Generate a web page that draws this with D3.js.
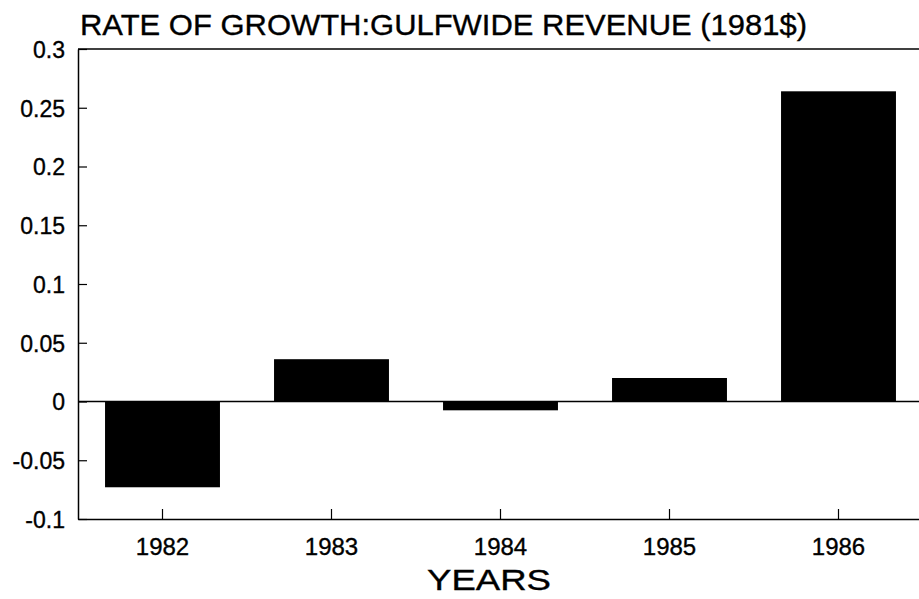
<!DOCTYPE html>
<html><head><meta charset="utf-8">
<script src="https://cdn.jsdelivr.net/npm/d3@7"></script>
<style>
body{margin:0;background:#fff;}
text{font-family:"Liberation Sans",Arial,Helvetica,sans-serif;fill:#000;stroke:#000;stroke-width:0.35px;}
</style></head>
<body><svg id="c" width="919" height="599"></svg>
<script>
const years = ["1982","1983","1984","1985","1986"];
const growth = [-0.073, 0.036, -0.0075, 0.020, 0.264];
const yTicks = [-0.1, -0.05, 0, 0.05, 0.1, 0.15, 0.2, 0.25, 0.3];
const yTickLabels = ["-0.1","-0.05","0","0.05","0.1","0.15","0.2","0.25","0.3"];
const titleText = "RATE OF GROWTH:GULFWIDE REVENUE (1981$)";
const xTitle = "YEARS";

const svg = d3.select("#c");
const L = 78, R = 923, T = 49, B = 519;
const x = d3.scaleBand().domain(years).range([L, R]).paddingInner(0.32).paddingOuter(0.16);
const y = d3.scaleLinear().domain([-0.1, 0.3]).range([B, T]);

// bars
svg.append("g").selectAll("rect").data(years).join("rect")
  .attr("x", d => x(d))
  .attr("width", x.bandwidth())
  .attr("y", (d,i) => y(Math.max(0, growth[i])))
  .attr("height", (d,i) => Math.abs(y(growth[i]) - y(0)))
  .attr("fill", "#000");

// frame lines
svg.append("line").attr("x1", L).attr("x2", 919).attr("y1", T).attr("y2", T).attr("stroke", "#000").attr("stroke-width", 1.5);
svg.append("line").attr("x1", L).attr("x2", 919).attr("y1", y(0)).attr("y2", y(0)).attr("stroke", "#000").attr("stroke-width", 1.5);

// y axis
const yAxis = d3.axisLeft(y).tickValues(yTicks).tickFormat((d,i) => yTickLabels[i]).tickSizeInner(-9).tickSizeOuter(0).tickPadding(13);
const gy = svg.append("g").attr("transform", `translate(${L},0)`).call(yAxis);
gy.select(".domain").attr("stroke-width", 1.5);
gy.selectAll("text").style("font-size", "23px").attr("dy", "0.36em");
gy.selectAll(".tick line").attr("stroke-width", 1.2);

// x axis
const xAxis = d3.axisBottom(x).tickSizeInner(-10).tickSizeOuter(0).tickPadding(19);
const gx = svg.append("g").attr("transform", `translate(0,${B})`).call(xAxis);
gx.select(".domain").attr("stroke-width", 1.5);
gx.selectAll("text").style("font-size", "24px");
gx.selectAll(".tick line").attr("stroke-width", 1.2);

// titles
svg.append("text").attr("x", 80).attr("y", 35).style("font-size", "29px")
  .attr("textLength", 727).attr("lengthAdjust", "spacingAndGlyphs").text(titleText);
svg.append("text").attr("x", 489).attr("y", 590).attr("text-anchor", "middle")
  .style("font-size", "29px").attr("textLength", 124).attr("lengthAdjust", "spacingAndGlyphs").text(xTitle);
</script></body></html>
